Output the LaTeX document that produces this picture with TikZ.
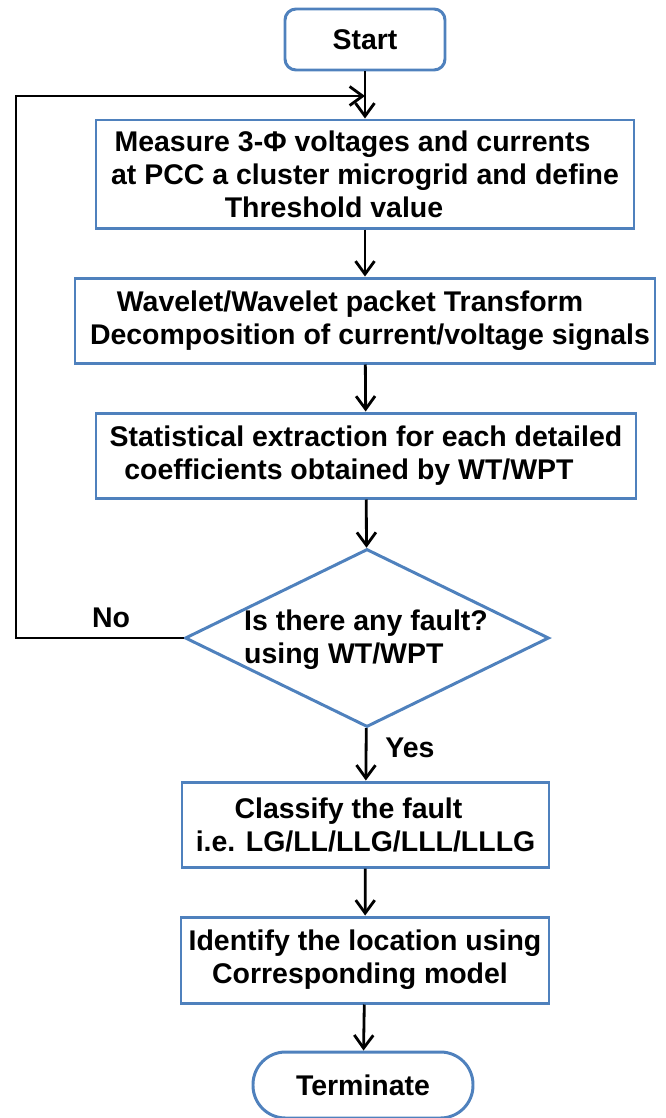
\documentclass[tikz,border=0pt]{standalone}
\usepackage{fontspec}
\setmainfont{Liberation Sans}
\usepackage{xcolor}
\usetikzlibrary{arrows.meta}
\usetikzlibrary{shapes}
\definecolor{boxblue}{RGB}{79,129,189}

\begin{document}
\begin{tikzpicture}[
        font=\fontsize{16.2pt}{18.8pt}\selectfont\bfseries,
        procbox/.style={rectangle, draw=boxblue, line width=1.7pt, align=center, inner sep=0pt},
        flowarr/.style={-{Straight Barb[length=2.6mm,width=3.8mm]}, line width=1.6pt}
]
        \useasboundingbox (0,0) rectangle (13.3,-22.36);
        \node [procbox, rounded corners=0.22cm, minimum width=3.2cm, minimum height=1.22cm] (start) at (7.3,-0.79) {Start};
        \node [procbox, minimum width=10.76cm, minimum height=2.16cm] (measure) at (7.3,-3.48) {Measure 3-Φ voltages and currents\hspace*{0.5cm}\\at PCC a cluster microgrid and define\\Threshold value\hspace*{1.24cm}};
        \node [procbox, minimum width=11.6cm, minimum height=1.7cm] (wavelet) at (7.3,-6.41) {Wavelet/Wavelet packet Transform\hspace*{0.6cm}\\\hspace*{0.2cm}Decomposition of current/voltage signals};
        \node [procbox, minimum width=10.8cm, minimum height=1.7cm] (stats) at (7.32,-9.11) {Statistical extraction for each detailed\\coefficients obtained by WT/WPT\hspace*{0.68cm}};
        \node [diamond, draw=boxblue, line width=1.7pt, inner sep=0pt, minimum width=7.28cm, minimum height=3.56cm] (fault) at (7.34,-12.76) {};
        \node [align=left, inner sep=0pt] (faulttext) at (7.32,-12.8) {Is there any fault?\\using WT/WPT};
        \node [procbox, minimum width=7.34cm, minimum height=1.7cm] (classify) at (7.31,-16.49) {Classify the fault\hspace*{0.68cm}\\i.e. LG/LL/LLG/LLL/LLLG};
        \node [procbox, minimum width=7.36cm, minimum height=1.72cm] (locate) at (7.3,-19.2) {Identify the location using\\Corresponding model\hspace*{0.2cm}};
        \node [procbox, rounded corners=0.65cm, minimum width=4.4cm, minimum height=1.32cm] (stop) at (7.26,-21.7) {Terminate};
        \node (nolab) at (2.22,-12.36) {No};
        \node (yeslab) at (8.2,-14.96) {Yes};
        \coordinate (looptop) at (0.32,-1.92);
        \coordinate (loopend) at (7.3,-1.92);
        \draw [flowarr] (start) -- (measure);
        \draw [flowarr] (measure) -- (wavelet);
        \draw [flowarr] (wavelet) -- (stats);
        \draw [flowarr] (stats) -- (fault);
        \draw [flowarr] (fault) -- (classify);
        \draw [flowarr] (classify) -- (locate);
        \draw [flowarr] (locate) -- (stop);
        \draw [flowarr] (fault.west) -| (looptop) -- (loopend);
\end{tikzpicture}
\end{document}
